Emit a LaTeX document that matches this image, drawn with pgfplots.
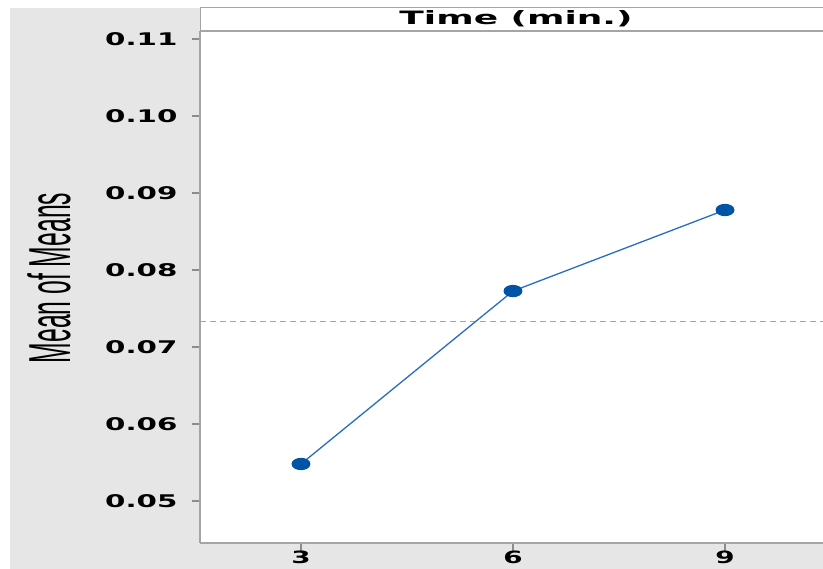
\documentclass[border=0pt]{standalone}
\usepackage{fontspec}
\setmainfont{DejaVu Sans}
\newfontfamily\labelfont{Liberation Sans}
\usepackage{pgfplots}
\pgfplotsset{compat=1.18}
\definecolor{panelgrey}{RGB}{230,230,230}
\definecolor{framegrey}{RGB}{165,165,165}
\definecolor{tickgrey}{RGB}{140,140,140}
\definecolor{meanblue}{RGB}{0,84,166}
\definecolor{lineblue}{RGB}{40,110,190}

\pgfplotstableread{
time mean
3 0.05481
6 0.07727
9 0.08779
}\meanstable

\begin{document}
\begin{tikzpicture}[x=1bp,y=1bp]
\useasboundingbox (0,0) rectangle (823,569);
\fill[white] (0,0) rectangle (823,569);
\fill[panelgrey] (10,0) rectangle (823,561);
\begin{axis}[
  at={(200bp,26bp)}, anchor=south west,
  scale only axis, width=623bp, height=512bp,
  xmin=1.571, xmax=10.387, ymin=0.04455, ymax=0.11104,
  axis background/.style={fill=white},
  axis x line*=bottom, axis y line*=left,
  axis line style={draw=framegrey, line width=1.5bp},
  xtick={3,6,9}, xticklabels={3,6,9},
  ytick={0.05,0.06,0.07,0.08,0.09,0.10,0.11},
  every tick/.style={draw=tickgrey, line width=1.3bp},
  tick align=outside, major tick length=8bp,
  yticklabel={\scalebox{1.68}[1]{\fontsize{17.5}{20}\selectfont\bfseries\pgfmathprintnumber[fixed,fixed zerofill,precision=2,assume math mode=true]{\tick}}},
  yticklabel style={xshift=-11bp},
  xticklabel style={font=\fontsize{17}{20}\selectfont\bfseries, xscale=1.64, yshift=4bp},
  clip=false,
]
\addplot[framegrey, dashed, line width=1bp, dash pattern=on 6bp off 4bp]
  coordinates {(1.571,0.07325) (10.387,0.07325)};
\addplot[lineblue, line width=1.3bp, mark=*, mark size=5.5bp,
  mark options={xscale=1.6, fill=meanblue, draw=meanblue}]
  table[x=time, y=mean] {\meanstable};
\end{axis}
% facet strip on top of the panel
\draw[framegrey, line width=1bp, fill=white] (200,538) rectangle (830,561);
\draw[framegrey, line width=2bp] (200,538) -- (830,538);
\node at (516,550) {\scalebox{1.95}[1]{\fontsize{18.5}{20}\selectfont\bfseries Time (min.)}};
\node[rotate=90] at (49,291) {\scalebox{1}[2.4]{\labelfont\fontsize{24.8}{28}\selectfont Mean of Means}};
\end{tikzpicture}
\end{document}
